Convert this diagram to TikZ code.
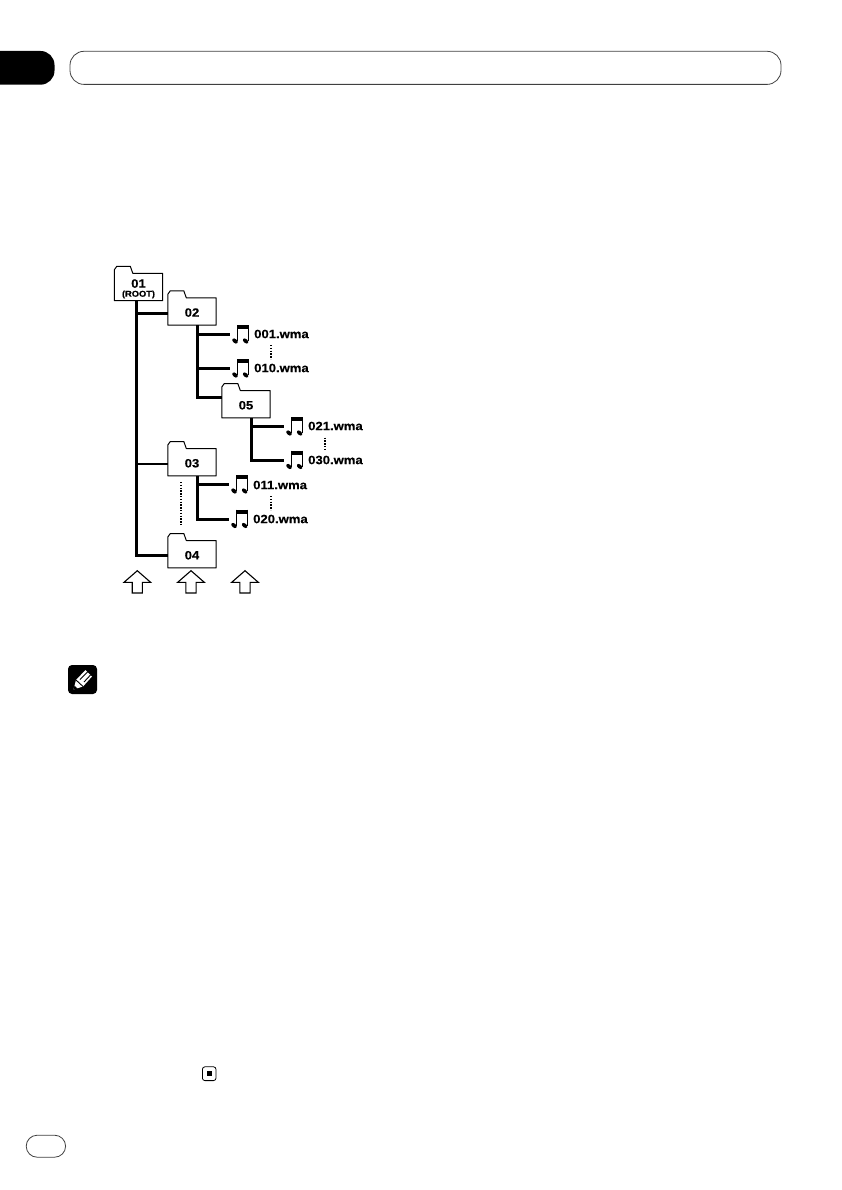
\documentclass[tikz,border=0pt]{standalone}
\usepackage{fontspec}
\newfontfamily\labelfont[FakeStretch=1.09,FakeBold=0.4]{Liberation Sans}
\usetikzlibrary{positioning}
\tikzset{
  folder/.style={fill=white,minimum width=48pt,minimum height=27pt,inner sep=0pt,font=\labelfont\bfseries\fontsize{12}{12}\selectfont},
  numfolder/.style={folder,text height=10.5pt},
  trunk/.style={line width=3pt},
  thinlink/.style={line width=2pt},
  song/.style={anchor=west,inner sep=0pt,font=\labelfont\bfseries\fontsize{12}{12}\selectfont},
  dots/.style={line width=1.8pt,dash pattern=on 1.4pt off 1.4pt},
  outline/.style={draw=black!75,line width=0.8pt,rounded corners=14pt},
}
% outline of a folder round the body node #1
\newcommand{\folderline}[1]{
  \draw[line width=1pt,line join=round] (#1.north east) -- (#1.south east) -- (#1.south west) -- (#1.north west) -- ++(0,-3.5) -- ++(2.5,-3.5) -- ++(13.5,0) -- ++(2.5,7) -- cycle;
}
% music note, #1 is the point where the link ends
\newcommand{\musicnote}[1]{
  \begin{scope}[shift={(#1)}]
    \fill (7,-9.5) rectangle (19,-5.5);
    \draw[line width=1.5pt] (7.7,-9.5) -- (7.7,6.5) (18.3,-9.5) -- (18.3,6.5);
    \fill (5,6.5) circle[x radius=3.2,y radius=2,rotate=-40];
    \fill (15.6,6.5) circle[x radius=3.2,y radius=2,rotate=-40];
  \end{scope}
}
\begin{document}
\begin{tikzpicture}[x=1pt,y=-1pt]
\useasboundingbox (0,0) rectangle (842,1190);
% header
\fill[rounded corners=14pt] (-20,51) rectangle (54.5,84.7);
\draw[outline] (70,51.3) rectangle (781,84.4);
% folders
\node[folder] (f01) at (138.5,287) {\begin{tabular}{@{}c@{}}\rule{0pt}{14pt}01\\[-3pt]\fontsize{8.5}{8.5}\selectfont(ROOT)\end{tabular}};
\node[numfolder] (f02) at (192,311.5) {02};
\node[numfolder] (f05) at (246,404.2) {05};
\node[numfolder] (f03) at (192,462.2) {03};
\node[numfolder] (f04) at (192,554.2) {04};
% song names
\node[song] (s001) at (254,334) {001.wma};
\node[song] (s010) at (254,368) {010.wma};
\node[song] (s021) at (308,426) {021.wma};
\node[song] (s030) at (308,460) {030.wma};
\node[song] (s011) at (253,485) {011.wma};
\node[song] (s020) at (253,519) {020.wma};
% note symbols
\coordinate (n001) at (230,334.5);
\coordinate (n010) at (230,368.5);
\coordinate (n021) at (284,426.5);
\coordinate (n030) at (284,460);
\coordinate (n011) at (229,484.5);
\coordinate (n020) at (229,519);
\foreach \n in {n001,n010,n021,n030,n011,n020} \musicnote{\n}
% links
\draw[trunk] ([xshift=-2.5pt]f01.south) |- ([yshift=-1.4pt]f04.west);
\draw[trunk] ([xshift=-2.5pt]f01.south |- 0,313.5) -- ([yshift=-2pt]f02.west);
\draw[thinlink] ([xshift=-2.5pt]f01.south |- 0,464) -- ([yshift=-1.8pt]f03.west);
\draw[trunk] ([xshift=5.7pt]f02.south) |- ([yshift=6.7pt]f05.west);
\draw[trunk] ([xshift=5.7pt]f02.south |- n001) -- (n001);
\draw[trunk] ([xshift=5.7pt]f02.south |- n010) -- (n010);
\draw[trunk] ([xshift=5.2pt]f05.south) |- (n030);
\draw[trunk] ([xshift=5.2pt]f05.south |- n021) -- (n021);
\draw[trunk] ([xshift=5.5pt]f03.south) |- (n020);
\draw[trunk] ([xshift=5.5pt]f03.south |- n011) -- (n011);
\foreach \f in {f01,f02,f05,f03,f04} \folderline{\f}
% dotted lines
\coordinate (d1) at (271,345);
\coordinate (d2) at (271,359);
\coordinate (d3) at (325,437.5);
\coordinate (d4) at (325,451);
\coordinate (d5) at (270.7,496);
\coordinate (d6) at (270.7,510);
\coordinate (d7) at (180.7,482);
\coordinate (d8) at (180.7,526);
\draw[dots] (d1) -- (d2);
\draw[dots] (d3) -- (d4);
\draw[dots] (d5) -- (d6);
\draw[dots] (d7) -- (d8);
% arrows
\foreach \x in {137.3,191,245}
  \draw[line width=1.1pt,line join=miter] (\x,570.7) -- ++(13.3,11.6) -- ++(-8.2,0) -- ++(0,10.7) -- ++(-10.2,0) -- ++(0,-10.7) -- ++(-8.2,0) -- cycle;
% pencil mark
\fill[rounded corners=4pt] (68,665) rectangle (97,694);
\fill[white] (73.5,689.5) -- (76,680) -- (85.5,670) -- (92,676.5) -- (83,686.5) -- cycle;
\draw[line width=0.9pt] (76,680) -- (83,686.5) (80,679.5) -- (88,671.5) (84,682) -- (90.5,675);
\fill (73.5,689.5) -- (74.5,685.5) -- (77.5,688.5) -- cycle;
% end mark and page tag
\draw[line width=0.8pt,rounded corners=2.5pt] (202.4,1066.8) rectangle (216,1080.6);
\fill (207.3,1071) rectangle (212.3,1076.3);
\draw[outline,rounded corners=11pt] (26.2,1135.2) rectangle (65.6,1157.2);
\end{tikzpicture}
\end{document}
